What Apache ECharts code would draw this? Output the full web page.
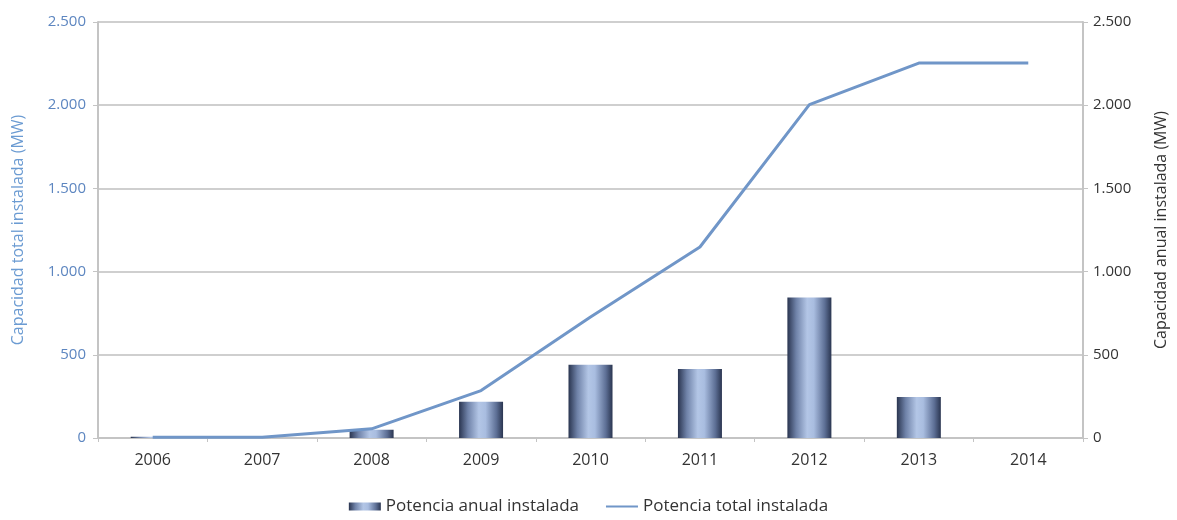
<!DOCTYPE html>
<html><head><meta charset="utf-8">
<script src="https://cdn.jsdelivr.net/npm/echarts@6/dist/echarts.min.js"></script>
<style>html,body{margin:0;padding:0;background:#fff}#c{width:1177px;height:520px}</style>
</head><body><div id="c"></div>
<script>
const years = ['2006','2007','2008','2009','2010','2011','2012','2013','2014'];
const anual = [8, 0, 50, 218, 440, 415, 845, 246, 0];
const total = [5, 5, 55, 285, 727, 1148, 2003, 2253, 2253];
const axisTicks = [0, 500, 1000, 1500, 2000, 2500];

const fmt = v => v >= 1000 ? (Math.floor(v/1000) + '.' + String(v%1000).padStart(3,'0')) : String(v);
const barGrad = new echarts.graphic.LinearGradient(0,0,1,0,[
  {offset:0,color:'#2a3550'},{offset:0.2,color:'#6f82a8'},{offset:0.45,color:'#b3c6e6'},
  {offset:0.6,color:'#a9bde0'},{offset:0.85,color:'#5d6f95'},{offset:1,color:'#2a3550'}]);
const F = '"Open Sans", sans-serif';
const chart = echarts.init(document.getElementById('c'));
chart.setOption({
  animation:false,
  textStyle:{fontFamily:F},
  grid:{left:98,right:94,top:22,bottom:82},
  legend:{bottom:0,left:'center',itemGap:26,itemWidth:32,itemHeight:8,
    textStyle:{fontSize:17,color:'#333',fontFamily:F},
    data:[{name:'Potencia anual instalada',icon:'rect'},
          {name:'Potencia total instalada',itemStyle:{opacity:0}}]},
  xAxis:{type:'category',data:years,boundaryGap:true,
    axisLine:{lineStyle:{color:'#c4c4c4',width:2}},
    axisTick:{show:true,length:4,lineStyle:{color:'#c4c4c4'}},
    axisLabel:{color:'#333',fontSize:16,margin:14}},
  yAxis:[
    {type:'value',min:0,max:2500,interval:500,position:'left',
     name:'Capacidad total instalada (MW)',nameLocation:'middle',nameGap:72,
     nameTextStyle:{color:'#6b9bd2',fontSize:16,fontFamily:F},
     axisLine:{show:true,lineStyle:{color:'#c4c4c4',width:2}},
     axisTick:{show:true,length:5,lineStyle:{color:'#c4c4c4'}},
     axisLabel:{color:'#5d86c0',fontSize:15,margin:12,formatter:fmt},
     splitLine:{lineStyle:{color:'#cfcfcf',width:2}}},
    {type:'value',min:0,max:2500,interval:500,position:'right',
     name:'Capacidad anual instalada (MW)',nameLocation:'middle',nameGap:70,nameRotate:90,
     nameTextStyle:{color:'#333',fontSize:16,fontFamily:F},
     axisLine:{show:true,lineStyle:{color:'#c4c4c4',width:2}},
     axisTick:{show:true,length:5,lineStyle:{color:'#c4c4c4'}},
     axisLabel:{color:'#333',fontSize:15,margin:10,formatter:fmt},
     splitLine:{show:false}}
  ],
  series:[
    {name:'Potencia anual instalada',type:'bar',yAxisIndex:1,data:anual,barWidth:44,
     itemStyle:{color:barGrad}},
    {name:'Potencia total instalada',type:'line',yAxisIndex:0,data:total,
     symbol:'none',lineStyle:{color:'#7096c8',width:3},itemStyle:{color:'#7096c8'}}
  ]
});
</script></body></html>
